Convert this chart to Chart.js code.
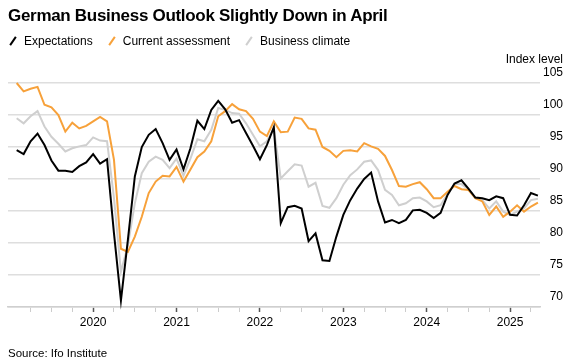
<!DOCTYPE html>
<html>
<head>
<meta charset="utf-8">
<script src="https://cdn.jsdelivr.net/npm/chart.js@4.4.1/dist/chart.umd.min.js"></script>
<style>
  body { margin: 0; width: 574px; height: 362px; background: #fff; font-family: "Liberation Sans", Arial, sans-serif; position: relative; overflow: hidden; }
  #title { position: absolute; left: 8px; top: 6px; font-size: 17px; letter-spacing: -0.3px; font-weight: bold; color: #000; white-space: nowrap; }
  #legend { position: absolute; left: 8px; top: 34px; font-size: 12px; color: #000; white-space: nowrap; }
  .item { display: inline-block; margin-right: 14px; }
  .swatch { display: inline-block; width: 10px; height: 2px; transform: rotate(-55deg); vertical-align: middle; margin-right: 6px; position: relative; top: -1px; }
  #unit { position: absolute; right: 11px; top: 52px; font-size: 12px; color: #000; }
  #source { position: absolute; left: 8px; top: 347px; font-size: 11.5px; color: #000; }
  #wrap { position: absolute; left: 0; top: 0; width: 574px; height: 362px; }
</style>
</head>
<body>
<div id="wrap"><canvas id="ifoChart" width="574" height="362"></canvas></div>
<div id="title">German Business Outlook Slightly Down in April</div>
<div id="legend"></div>
<div id="unit">Index level</div>
<div id="source">Source: Ifo Institute</div>
<script>
// monthly readings, Jan 2019 .. Apr 2025
const startYear = 2019;
const expectations = [
  94.5, 93.9, 95.9, 97.1, 95.3, 92.9, 91.3, 91.3, 91.1, 92.0, 92.6, 93.9,
  92.4, 93.1, 81.5, 71.0, 80.5, 90.4, 95.0, 96.9, 97.8, 95.6, 93.0, 94.6,
  91.5, 94.8, 99.1, 97.8, 100.8, 102.2, 100.9, 98.8, 99.2, 97.2, 95.2, 93.1,
  95.3, 98.1, 83.1, 85.6, 85.8, 85.4, 80.3, 81.5, 77.3, 77.2, 81.0, 84.4,
  86.7, 88.5, 90.0, 91.0, 86.5, 83.2, 83.6, 83.1, 83.6, 85.1, 85.2, 84.7,
  83.9, 84.7, 87.5, 89.3, 89.8, 88.5, 87.1, 87.0, 86.7, 87.3, 87.0, 84.4,
  84.3, 85.9, 87.8, 87.4
];
const currentAssessment = [
  105.0, 103.7, 104.1, 104.4, 101.6, 101.2, 100.0, 97.4, 98.8, 97.9, 98.3, 99.0,
  99.7, 99.0, 93.0, 79.1, 78.6, 81.0, 84.1, 87.8, 89.6, 90.5, 90.4, 91.9,
  89.6, 91.5, 93.4, 94.3, 95.9, 99.8, 100.6, 101.7, 100.9, 100.6, 99.4, 97.4,
  96.7, 99.0, 97.3, 97.4, 99.6, 99.4, 97.9, 97.7, 95.0, 94.4, 93.4, 94.4,
  94.5, 94.3, 95.6, 95.1, 94.7, 93.6, 91.4, 88.9, 88.8, 89.2, 89.5, 88.4,
  87.0, 87.0, 88.0, 88.9, 88.4, 88.3, 87.0, 86.5, 84.4, 85.7, 84.1, 84.9,
  85.9, 84.9, 85.7, 86.3
];
const businessClimate = [
  99.5, 98.7, 99.8, 100.6, 98.2, 96.6, 95.5, 94.3, 94.8, 95.1, 95.3, 96.5,
  96.0, 95.9, 87.0, 75.5, 79.6, 86.2, 90.9, 92.7, 93.5, 93.0, 91.7, 93.2,
  90.5, 93.2, 96.2, 95.9, 97.7, 101.1, 100.8, 100.3, 100.2, 98.7, 96.9, 95.1,
  95.9, 97.9, 90.1, 91.2, 92.3, 92.1, 88.8, 89.4, 85.8, 85.5, 87.0, 89.1,
  90.6, 91.5, 92.7, 92.9, 91.4, 88.3, 87.5, 85.9, 86.2, 87.0, 87.1, 86.5,
  85.6, 85.9, 87.7, 89.2, 89.2, 88.4, 87.0, 86.7, 85.4, 86.5, 84.9, 84.4,
  84.9, 85.4, 86.7, 86.9
];
const seriesNames = ['Expectations', 'Current assessment', 'Business climate'];
const seriesColors = ['#000000', '#f7a13a', '#cfcfcf'];
const yTicks = [70, 75, 80, 85, 90, 95, 100, 105];

// month-end points: value k sits at k+1 months after Jan 2019
function toPoints(arr) {
  return arr.map((v, k) => ({ x: k + 1, y: v }));
}

const allSeries = [expectations, currentAssessment, businessClimate];

// legend
const legend = document.getElementById('legend');
seriesNames.forEach((name, i) => {
  const item = document.createElement('span');
  item.className = 'item';
  item.innerHTML = '<span class="swatch" style="background:' + seriesColors[i] + '"></span>' + name;
  legend.appendChild(item);
});

const ctx = document.getElementById('ifoChart').getContext('2d');
const chart = new Chart(ctx, {
  type: 'line',
  data: {
    datasets: allSeries.map((arr, i) => ({
      label: seriesNames[i],
      data: toPoints(arr),
      borderColor: seriesColors[i],
      borderWidth: 2,
      pointRadius: 0,
      tension: 0,
      clip: 4
    }))
  },
  options: {
    responsive: false,
    animation: false,
    devicePixelRatio: 1,
    layout: { padding: { left: 8, right: 11, top: 83, bottom: 25 } },
    plugins: { legend: { display: false }, tooltip: { enabled: false } },
    scales: {
      x: {
        type: 'linear',
        min: -0.25,
        max: 76.3,
        afterBuildTicks: (scale) => {
          const t = [];
          for (let m = 3; m <= 75; m += 3) t.push({ value: m });
          scale.ticks = t;
        },
        afterFit: (scale) => { scale.height = 30; },
        ticks: {
          autoSkip: false,
          maxRotation: 0,
          padding: 3,
          color: '#000',
          font: { family: 'Liberation Sans', size: 12 },
          callback: (v) => (v % 12 === 0 ? String(startYear + v / 12) : '')
        },
        grid: {
          drawOnChartArea: false,
          tickLength: 5,
          tickColor: (c) => (c.tick && c.tick.value % 12 === 0 ? '#555' : '#ccc'),
          tickWidth: (c) => (c.tick && c.tick.value % 12 === 0 ? 1.5 : 1)
        },
        border: { display: true, color: '#cfcfcf', width: 1.5 }
      },
      y: {
        position: 'right',
        min: 70,
        max: 105,
        afterBuildTicks: (scale) => { scale.ticks = yTicks.map(v => ({ value: v })); },
        afterFit: (scale) => { scale.width = 23; },
        ticks: {
          crossAlign: 'far',
          labelOffset: -10,
          padding: 0,
          color: '#000',
          font: { family: 'Liberation Sans', size: 12 }
        },
        grid: { color: '#dedede', lineWidth: 1.5, drawTicks: false },
        border: { display: false }
      }
    }
  }
});
</script>
</body>
</html>
